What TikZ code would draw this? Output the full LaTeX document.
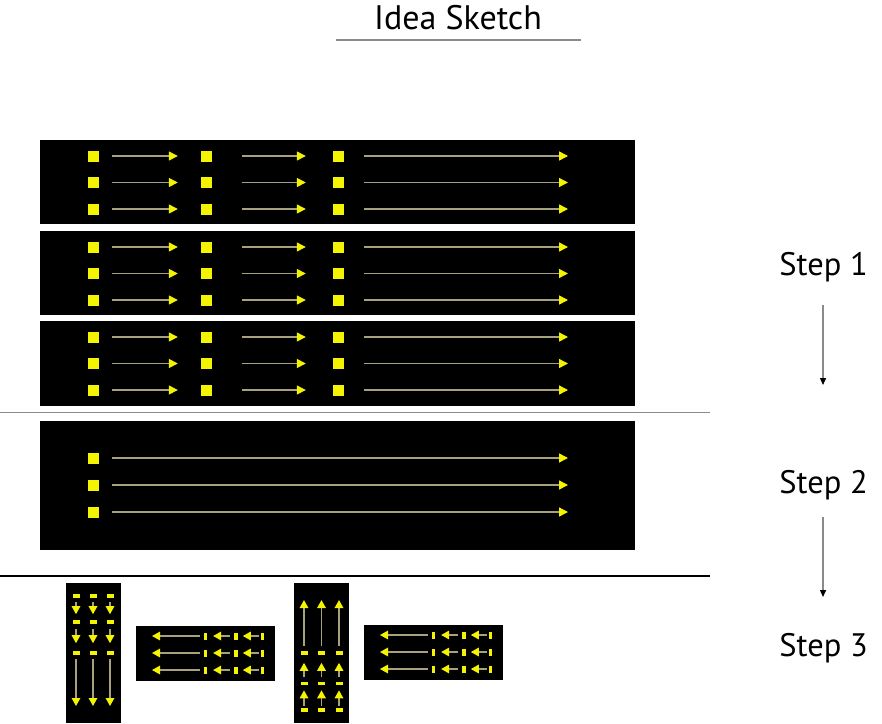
\documentclass[tikz,border=0pt]{standalone}
\usepackage{fontspec}
\setmainfont{PT Sans}
\usetikzlibrary{arrows.meta}
\definecolor{ylw}{HTML}{F4F400}
\definecolor{khaki}{HTML}{A8A27C}
\definecolor{rulegray}{HTML}{8A8A8A}
\tikzset{
  panel/.style={fill=black},
  sq/.style={fill=ylw, minimum size=11pt, inner sep=0pt, draw=none},
  flow/.style={draw=khaki, line width=1.4pt, -{Triangle[length=9pt,width=9pt,color=ylw]}},
  sflow/.style={draw=khaki, line width=1.5pt, -{Triangle[length=8pt,width=8.5pt,color=ylw]}},
  hdash/.style={fill=ylw, minimum width=7pt, minimum height=3.2pt, inner sep=0pt, draw=none},
  vdash/.style={fill=ylw, minimum width=3.2pt, minimum height=7pt, inner sep=0pt, draw=none},
  steplabel/.style={font=\fontsize{32.5}{36}\selectfont, inner sep=0pt, anchor=base},
  steparrow/.style={draw=rulegray, line width=1.3pt, -{Triangle[length=7pt,width=6pt,color=black]}},
}
\begin{document}
\begin{tikzpicture}[x=1pt,y=-1pt]
\useasboundingbox (0,0) rectangle (882,723);
\fill[white] (0,0) rectangle (882,723);

% title
\node[font=\fontsize{34}{38}\selectfont, inner sep=0pt, anchor=base] (title) at (458,29.5) {Idea Sketch};
\draw[rulegray, line width=1.5pt] (336,40) -- (581,40);

% step 1 panels
\foreach \top/\h [count=\p] in {140/84,231/84,321/85} {
  \fill[panel] (40,\top) rectangle ++(595,\h);
  \foreach \dy [count=\r] in {16,42.5,69} {
    \pgfmathsetmacro\yy{\top+\dy}
    \node[sq] (a\p\r) at (93,\yy) {};
    \node[sq] (b\p\r) at (206,\yy) {};
    \node[sq] (c\p\r) at (338,\yy) {};
    \coordinate (e\p\r) at (568,\yy);
    \draw[flow] ([xshift=13.5pt]a\p\r.east) -- ([xshift=-22.5pt]b\p\r.west);
    \draw[flow] ([xshift=30.5pt]b\p\r.east) -- ([xshift=-26.5pt]c\p\r.west);
    \draw[flow] ([xshift=20.5pt]c\p\r.east) -- (e\p\r);
  }
}
\draw[rulegray, line width=1.8pt] (0,412.5) -- (710,412.5);

% step 2 panel
\fill[panel] (40,421) rectangle (635,550);
\foreach \yy [count=\r] in {458,485,512} {
  \node[sq] (d\r) at (93,\yy) {};
  \coordinate (f\r) at (568,\yy);
  \draw[flow] ([xshift=13.5pt]d\r.east) -- (f\r);
}
\draw[black, line width=1.2pt] (0,576) -- (710,576);

% step 3: tall panel (downward)
\fill[panel] (66,583) rectangle (121,723);
\foreach \xx [count=\c] in {76,93,110} {
  \node[hdash] (ta\c) at (\xx,596) {};
  \node[hdash] (tb\c) at (\xx,622) {};
  \node[hdash] (tc\c) at (\xx,653) {};
  \coordinate (td\c) at (\xx,706);
  \draw[sflow] ([yshift=-4pt]ta\c.south) -- ([yshift=6pt]tb\c.north);
  \draw[sflow] ([yshift=-5pt]tb\c.south) -- ([yshift=8pt]tc\c.north);
  \draw[sflow] ([yshift=-4pt]tc\c.south) -- (td\c);
}

% step 3: horizontal panels (leftward)
\foreach \px/\py [count=\k] in {136/626,364/625} {
  \fill[panel] (\px,\py) rectangle ++(139,55);
  \foreach \dy [count=\r] in {10,27,44} {
    \pgfmathsetmacro\yy{\py+\dy}
    \pgfmathsetmacro\xa{\px+69.3}
    \pgfmathsetmacro\xb{\px+100}
    \pgfmathsetmacro\xc{\px+126.5}
    \pgfmathsetmacro\xe{\px+16}
    \node[vdash] (ha\k\r) at (\xa,\yy) {};
    \node[vdash] (hb\k\r) at (\xb,\yy) {};
    \node[vdash] (hc\k\r) at (\xc,\yy) {};
    \coordinate (he\k\r) at (\xe,\yy);
    \draw[sflow] ([xshift=-2pt]hc\k\r.west) -- ([xshift=5pt]hb\k\r.east);
    \draw[sflow] ([xshift=-4pt]hb\k\r.west) -- ([xshift=6pt]ha\k\r.east);
    \draw[sflow] ([xshift=-4pt]ha\k\r.west) -- (he\k\r);
  }
}

% step 3: tall panel (upward)
\fill[panel] (294,583) rectangle (349,723);
\foreach \xx [count=\c] in {304,321.5,339} {
  \node[hdash] (ua\c) at (\xx,653) {};
  \node[hdash] (ub\c) at (\xx,683.5) {};
  \node[hdash] (uc\c) at (\xx,710) {};
  \coordinate (ud\c) at (\xx,600);
  \draw[sflow] ([yshift=5pt]ua\c.north) -- (ud\c);
  \draw[sflow] ([yshift=5pt]ub\c.north) -- ([yshift=-8pt]ua\c.south);
  \draw[sflow] ([yshift=2.5pt]uc\c.north) -- ([yshift=-5pt]ub\c.south);
}

% step labels and arrows
\node[steplabel] (s1) at (823.5,275) {Step 1};
\node[steplabel] (s2) at (823.5,493.5) {Step 2};
\node[steplabel] (s3) at (823.5,656.5) {Step 3};
\coordinate (a1s) at (823,305);
\coordinate (a1e) at (823,385);
\coordinate (a2s) at (823,517);
\coordinate (a2e) at (823,597);
\draw[steparrow] (a1s) -- (a1e);
\draw[steparrow] (a2s) -- (a2e);
\end{tikzpicture}
\end{document}
